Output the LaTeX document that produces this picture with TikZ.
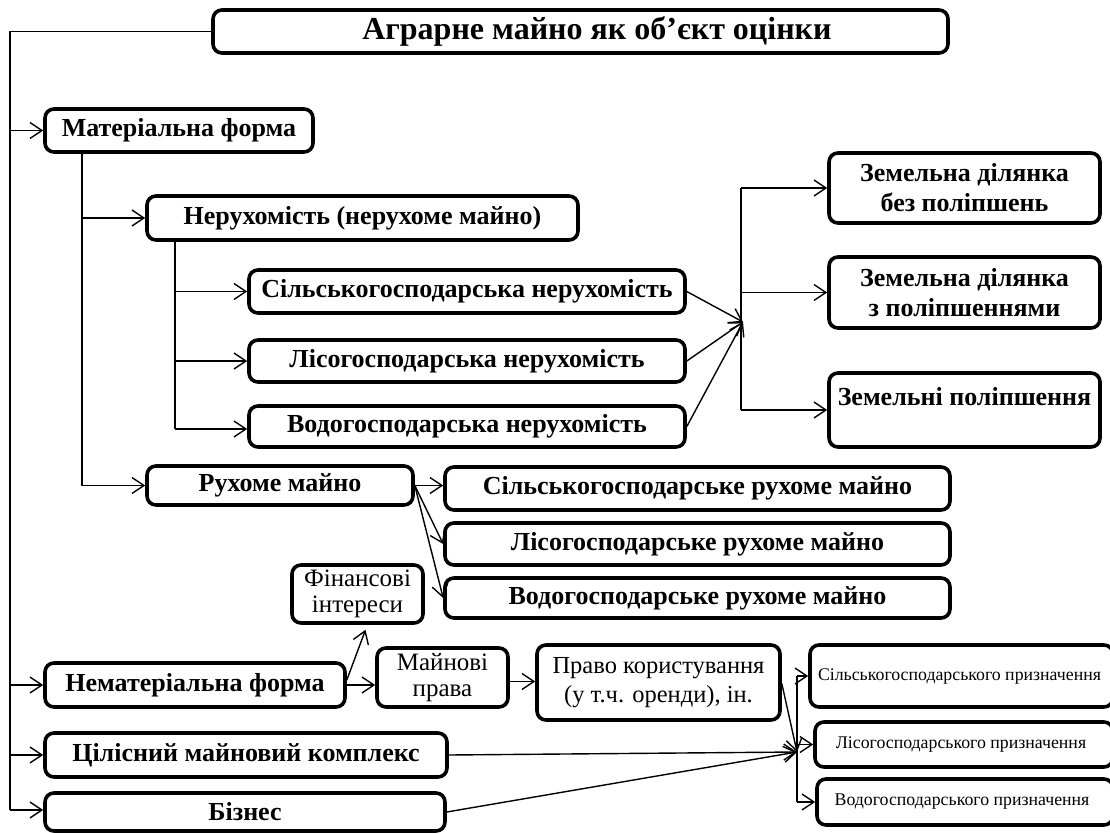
\documentclass[tikz,border=0pt]{standalone}
\usepackage{fontspec}
\setmainfont{Liberation Serif}
\usetikzlibrary{arrows.meta}
\begin{document}
\begin{tikzpicture}[x=1pt,y=-1pt,
  box/.style={draw, line width=3.6pt, rounded corners=9pt, inner sep=0pt, align=center},
  bfs/.style={font=\fontsize{26}{30}\selectfont\bfseries},
  nfs/.style={font=\fontsize{25}{26}\selectfont},
  pfs/.style={font=\fontsize{24.5}{29}\selectfont},
  sfs/.style={font=\fontsize{17.8}{20}\selectfont},
  arr/.style={line width=1.4pt, -{Straight Barb[length=12pt,width=16pt,line width=1.4pt]}},
  ln/.style={line width=1.4pt}]
\useasboundingbox (0,0) rectangle (1110,834);
% boxes
\node[box, font=\fontsize{32}{36}\selectfont\bfseries, minimum width=735pt, minimum height=43pt] (title) at (580.5,31.5) {\hspace*{33pt}Аграрне майно як об’єкт оцінки};
\node[box,bfs, minimum width=268pt, minimum height=43pt] (mat) at (179,130.5) {Матеріальна форма};
\node[box,bfs, minimum width=431pt, minimum height=44pt] (neruh) at (362.5,218) {Нерухомість (нерухоме майно)};
\node[box,bfs, minimum width=436pt, minimum height=43pt] (sg) at (467,291.5) {Сільськогосподарська нерухомість};
\node[box,bfs, minimum width=436pt, minimum height=42pt] (lg) at (467,361) {Лісогосподарська нерухомість};
\node[box,bfs, minimum width=436pt, minimum height=41pt] (vg) at (467,426.5) {Водогосподарська нерухомість};
\node[box,bfs, minimum width=271pt, minimum height=70pt] (zd1) at (964.5,188) {Земельна ділянка\\без поліпшень};
\node[box,bfs, minimum width=271pt, minimum height=71pt] (zd2) at (964.5,292.5) {Земельна ділянка\\з поліпшеннями};
\node[box,bfs, minimum width=271pt, minimum height=74pt] (zp) at (964.5,410) {Земельні поліпшення\\[-12pt]\strut};
\node[box,bfs, minimum width=266pt, minimum height=39pt] (ruh) at (280,485.5) {Рухоме майно};
\node[box,bfs, minimum width=505pt, minimum height=43pt] (sgr) at (697.5,488.5) {Сільськогосподарське рухоме майно};
\node[box,bfs, minimum width=505pt, minimum height=42pt] (lgr) at (697.5,544) {Лісогосподарське рухоме майно};
\node[box,bfs, minimum width=505pt, minimum height=40pt] (vgr) at (697.5,598) {Водогосподарське рухоме майно};
\node[box,nfs, minimum width=131pt, minimum height=58pt] (fin) at (357.5,594) {Фінансові\\інтереси};
\node[box,bfs, minimum width=300pt, minimum height=44pt] (nemat) at (195,685) {Нематеріальна форма};
\node[box,nfs, minimum width=131pt, minimum height=59pt] (mayn) at (442.5,677.5) {Майнові\\права};
\node[box,pfs, minimum width=243pt, minimum height=75pt] (pravo) at (658.5,682.5) {Право користування\\(у т.ч. оренди), ін.};
\node[box,sfs, minimum width=303pt, minimum height=62pt] (sgp) at (961.5,676) {Сільськогосподарського призначення\hspace*{4pt}};
\node[box,sfs, minimum width=298pt, minimum height=45pt] (lgp) at (964,744.5) {Лісогосподарського призначення\hspace*{6pt}};
\node[box,sfs, minimum width=296pt, minimum height=46pt] (vgp) at (965,802) {Водогосподарського призначення\hspace*{6pt}};
\node[box,bfs, minimum width=402pt, minimum height=44pt] (cil) at (246,755) {Цілісний майновий комплекс};
\node[box,bfs, minimum width=400pt, minimum height=38pt] (biz) at (245,812) {Бізнес};
% coordinates
\coordinate (tb) at (10,810);
\coordinate (mb) at (82,485.5);
\coordinate (nb) at (175,429);
\coordinate (cp1) at (743,322);
\coordinate (v1t) at (741,188);
\coordinate (v1b) at (741,410);
\coordinate (cp2) at (797,752);
\coordinate (v2t) at (797,676);
\coordinate (v2b) at (797,802);
% trunk
\draw[ln] (title.west) -| (tb);
\draw[arr] (tb |- mat.west) -- (mat.west);
\draw[arr] (tb |- nemat.west) -- (nemat.west);
\draw[arr] (tb |- cil.west) -- (cil.west);
\draw[arr] (tb) -- (tb -| biz.west);
% material
\draw[ln] (mat.south -| mb) -- (mb);
\draw[arr] (mb |- neruh.west) -- (neruh.west);
\draw[arr] (mb) -- (ruh.west);
% real estate
\draw[ln] (neruh.south -| nb) -- (nb);
\draw[arr] (nb |- sg.west) -- (sg.west);
\draw[arr] (nb |- lg.west) -- (lg.west);
\draw[arr] (nb) -- (nb -| vg.west);
\draw[arr] (sg.east) -- (cp1);
\draw[arr] (lg.east) -- (cp1);
\draw[arr] (vg.east) -- (cp1);
\draw[ln] (v1t) -- (v1b);
\draw[arr] (v1t) -- (zd1.west);
\draw[arr] (v1t |- zd2.west) -- (zd2.west);
\draw[arr] (v1b) -- (v1b -| zp.west);
% movable
\draw[arr] (ruh.east) -- (ruh.east -| sgr.west);
\draw[arr] (ruh.east) -- (lgr.west);
\draw[arr] (ruh.east) -- (vgr.west);
% intangible
\draw[arr] ([yshift=5pt]nemat.east) -- ([xshift=8pt,yshift=-5pt]fin.south);
\draw[arr] (nemat.east) -- (nemat.east -| mayn.west);
\draw[arr] ([yshift=-4pt]mayn.east) -- ([yshift=-4pt]mayn.east -| pravo.west);
\draw[arr] ([yshift=-1pt]pravo.east) -- (cp2);
\draw[arr] (cil.east) -- (cp2);
\draw[arr] (biz.east) -- (cp2);
\draw[ln] (v2t) -- (v2b);
\draw[arr] (v2t) -- (v2t -| sgp.west);
\draw[arr] (v2t |- lgp.west) -- (lgp.west);
\draw[arr] (v2b) -- (v2b -| vgp.west);
\end{tikzpicture}
\end{document}
